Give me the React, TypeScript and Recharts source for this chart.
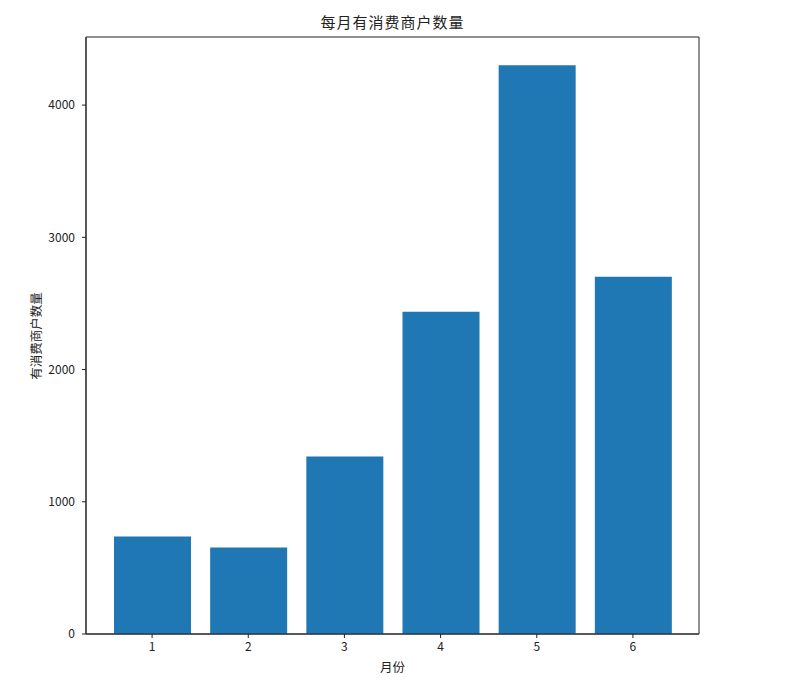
import { BarChart, Bar, XAxis, YAxis, CartesianGrid } from 'recharts';

const months = ['1', '2', '3', '4', '5', '6'];
const merchants = [738, 655, 1342, 2438, 4301, 2701];
const yTicks = [0, 1000, 2000, 3000, 4000];

const data = months.map((m, i) => ({ month: m, count: merchants[i] }));

const font = '"Noto Sans CJK SC", "DejaVu Sans", sans-serif';
const tickStyle = { fill: '#222', fontSize: 12, fontFamily: font };
const lineStyle = { stroke: '#222', strokeWidth: 1 };

// spines: draw a frame round the plot area using the chart's own offset
const frameH = ({ offset }: any) => [offset.top, offset.top + offset.height];
const frameV = ({ offset }: any) => [offset.left, offset.left + offset.width];

export default function App() {
  return (
    <div style={{ position: 'absolute', left: 0, top: 0, width: 787, height: 689, background: '#fff', fontFamily: font }}>
      <div style={{ position: 'absolute', left: 86, width: 613, top: 11, textAlign: 'center', fontSize: 15, letterSpacing: 1, color: '#222' }}>
        每月有消费商户数量
      </div>
      <div style={{ position: 'absolute', left: 86, width: 613, top: 657, textAlign: 'center', fontSize: 12.5, color: '#222' }}>
        月份
      </div>
      <div
        style={{
          position: 'absolute',
          left: 35,
          top: 336,
          transform: 'translate(-50%, -50%) rotate(-90deg)',
          whiteSpace: 'nowrap',
          fontSize: 12.5,
          color: '#222',
        }}
      >
        有消费商户数量
      </div>
      <BarChart width={787} height={689} data={data} margin={{ top: 37, right: 88, left: 0, bottom: 15 }} barSize={77}>
        <CartesianGrid
          stroke="#222"
          strokeWidth={1}
          horizontalCoordinatesGenerator={frameH}
          verticalCoordinatesGenerator={frameV}
        />
        <XAxis
          dataKey="month"
          height={40}
          padding={{ left: 18, right: 18 }}
          tick={tickStyle}
          tickLine={lineStyle}
          axisLine={lineStyle}
          tickSize={4}
          tickMargin={4}
        />
        <YAxis
          type="number"
          domain={[0, 4515]}
          ticks={yTicks}
          width={86}
          tick={tickStyle}
          tickLine={lineStyle}
          axisLine={lineStyle}
          tickSize={4}
          tickMargin={7}
          allowDataOverflow
        />
        <Bar dataKey="count" fill="#1f77b4" isAnimationActive={false} />
      </BarChart>
    </div>
  );
}
